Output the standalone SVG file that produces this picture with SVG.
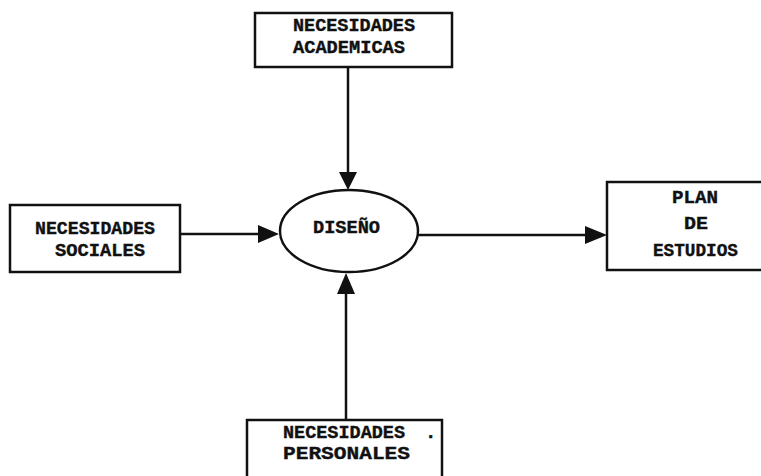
<svg xmlns="http://www.w3.org/2000/svg" width="761" height="476" viewBox="0 0 761 476">
<style>
.box{fill:#fff;stroke:#111;stroke-width:2.5}
.t{font-family:"Liberation Mono","Courier New",monospace;font-weight:bold;font-size:19px;fill:#111;stroke:#111;stroke-width:0.4}
.c{stroke:#111;stroke-width:2.5;fill:none}
.h{fill:#111}
</style>
<rect width="761" height="476" fill="#fff"/>
<g id="connectors">
<line class="c" x1="348" y1="67" x2="348" y2="172"/>
<path class="h" d="M339,172 L357,172 L348,190 Z"/>
<line class="c" x1="180" y1="234" x2="258" y2="234"/>
<path class="h" d="M258,225 L258,243 L279,234 Z"/>
<line class="c" x1="418" y1="235" x2="585" y2="235"/>
<path class="h" d="M585,226 L585,244 L607,235 Z"/>
<line class="c" x1="346" y1="420" x2="346" y2="294"/>
<path class="h" d="M337,294 L355,294 L346,273 Z"/>
</g>
<g id="n-academicas">
<rect class="box" x="255" y="13" width="197" height="54"/>
<text class="t" x="293" y="31" textLength="122" lengthAdjust="spacingAndGlyphs">NECESIDADES</text>
<text class="t" x="293" y="53" textLength="112" lengthAdjust="spacingAndGlyphs">ACADEMICAS</text>
</g>
<g id="n-sociales">
<rect class="box" x="10" y="205" width="170" height="67"/>
<text class="t" x="35" y="234" textLength="120" lengthAdjust="spacingAndGlyphs">NECESIDADES</text>
<text class="t" x="55" y="256" textLength="90" lengthAdjust="spacingAndGlyphs">SOCIALES</text>
</g>
<g id="n-diseno">
<ellipse class="box" cx="349" cy="231" rx="69" ry="41"/>
<text class="t" x="313" y="233" textLength="67" lengthAdjust="spacingAndGlyphs">DISEÑO</text>
</g>
<g id="n-plan">
<rect class="box" x="607" y="182" width="160" height="88"/>
<text class="t" x="672" y="203" textLength="46" lengthAdjust="spacingAndGlyphs">PLAN</text>
<text class="t" x="684" y="229" textLength="24" lengthAdjust="spacingAndGlyphs">DE</text>
<text class="t" x="653" y="256" textLength="85" lengthAdjust="spacingAndGlyphs">ESTUDIOS</text>
</g>
<g id="n-personales">
<rect class="box" x="247" y="420" width="195" height="70"/>
<text class="t" x="283" y="438" textLength="122" lengthAdjust="spacingAndGlyphs">NECESIDADES</text>
<text class="t" x="425" y="438">.</text>
<text class="t" x="283" y="459" textLength="127" lengthAdjust="spacingAndGlyphs">PERSONALES</text>
</g>
</svg>
